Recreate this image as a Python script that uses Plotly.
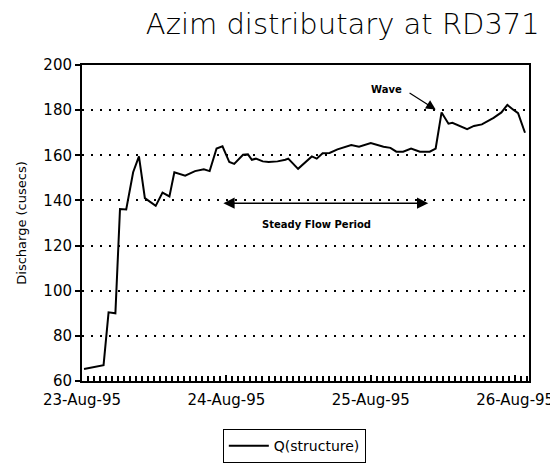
import plotly.graph_objects as go

times = [
    "1995-08-23 00:20", "1995-08-23 03:35", "1995-08-23 04:25", "1995-08-23 05:33",
    "1995-08-23 06:19", "1995-08-23 07:21", "1995-08-23 08:30", "1995-08-23 09:28",
    "1995-08-23 10:27", "1995-08-23 12:15", "1995-08-23 13:23", "1995-08-23 14:32",
    "1995-08-23 15:21", "1995-08-23 17:09", "1995-08-23 18:47", "1995-08-23 20:15",
    "1995-08-23 21:13", "1995-08-23 22:22", "1995-08-23 23:21", "1995-08-24 00:29",
    "1995-08-24 01:18", "1995-08-24 02:46", "1995-08-24 03:35", "1995-08-24 04:14",
    "1995-08-24 04:54", "1995-08-24 06:03", "1995-08-24 07:02", "1995-08-24 08:30",
    "1995-08-24 09:48", "1995-08-24 10:17", "1995-08-24 11:55", "1995-08-24 14:12",
    "1995-08-24 15:01", "1995-08-24 16:00", "1995-08-24 17:09", "1995-08-24 18:28",
    "1995-08-24 20:45", "1995-08-24 22:03", "1995-08-25 00:00", "1995-08-25 02:07",
    "1995-08-25 03:16", "1995-08-25 04:15", "1995-08-25 05:23", "1995-08-25 06:42",
    "1995-08-25 08:10", "1995-08-25 09:48", "1995-08-25 10:47", "1995-08-25 11:46",
    "1995-08-25 12:55", "1995-08-25 13:34", "1995-08-25 16:01", "1995-08-25 17:09",
    "1995-08-25 18:28", "1995-08-25 20:25", "1995-08-25 21:43", "1995-08-25 22:42",
    "1995-08-25 23:41", "1995-08-26 00:29", "1995-08-26 01:38",
]
discharge = [
    65.3, 67.0, 90.4, 90.0,
    136.2, 136.0, 152.5, 159.5,
    141.0, 137.6, 143.5, 141.8,
    152.5, 151.0, 153.0, 153.8,
    153.0, 163.0, 164.0, 157.0,
    156.2, 160.2, 160.4, 158.0,
    158.5, 157.3, 157.0, 157.3,
    158.0, 158.5, 154.0, 159.5,
    158.5, 160.9, 161.0, 162.6,
    164.5, 163.8, 165.4, 163.8,
    163.3, 161.6, 161.6, 163.0,
    161.6, 161.6, 163.0, 179.0,
    174.0, 174.4, 171.6, 173.0,
    173.7, 176.6, 179.0, 182.3,
    180.2, 178.7, 170.0,
]
series_name = "Q(structure)"
title_text = "Azim distributary at RD371"
y_title = "Discharge (cusecs)"
y_ticks = [60, 80, 100, 120, 140, 160, 180, 200]

fig = go.Figure()
fig.add_trace(go.Scatter(x=times, y=discharge, mode="lines", name=series_name,
                         line=dict(color="black", width=2)))

fig.update_layout(
    width=558, height=467,
    margin=dict(l=73, r=30, t=57, b=83),
    paper_bgcolor="white", plot_bgcolor="white",
    showlegend=True,
    font=dict(family="DejaVu Sans", color="black"),
    title=dict(text=title_text, x=0.6, xanchor="center", y=0.966, yanchor="middle",
               font=dict(family="DejaVu Sans", size=29, color="black", weight=200)),
    legend=dict(x=0.475, xanchor="center", y=-0.152, yanchor="top",
                bordercolor="black", borderwidth=1, bgcolor="white",
                font=dict(size=14, family="DejaVu Sans", color="black"),
                itemwidth=40),
)
fig.update_xaxes(
    range=["1995-08-23 00:00", "1995-08-26 02:18"],
    tickmode="linear", tick0="1995-08-23", dtick=86400000, tickformat="%d-%b-%y",
    ticks="inside", ticklen=6, tickcolor="black", tickwidth=1.5,
    showgrid=False, ticklabelstandoff=4,
    showline=True, linecolor="black", linewidth=2, mirror=True,
    tickfont=dict(size=15, family="DejaVu Sans", color="black"),
    minor=dict(dtick=3600000, ticks="inside", ticklen=5, tickcolor="black",
               tickwidth=1.5, showgrid=False),
)
fig.update_yaxes(
    range=[60, 200], tickvals=y_ticks,
    ticks="outside", ticklen=5, tickcolor="black", tickwidth=2,
    showgrid=True, gridcolor="black", gridwidth=1.5, griddash="2px,7px",
    showline=True, linecolor="black", linewidth=2, mirror=True,
    zeroline=False,
    tickfont=dict(size=15, family="DejaVu Sans", color="black"),
    title=dict(text=y_title, font=dict(size=13, family="DejaVu Sans", color="black"),
               standoff=14),
)

# Wave annotation
fig.add_annotation(x="1995-08-25 10:47", y=180.3, ax="1995-08-25 06:12", ay=188.0,
                   axref="x", ayref="y", xref="x", yref="y",
                   text="", showarrow=True, arrowhead=2, arrowsize=1.6, arrowwidth=1.2,
                   arrowcolor="black")
fig.add_annotation(x="1995-08-25 02:37", y=189.0, xref="x", yref="y", text="<b>Wave</b>",
                   showarrow=False, font=dict(size=10, family="DejaVu Sans", color="black"),
                   xanchor="center")
# Steady flow arrow (double-headed)
fig.add_annotation(x="1995-08-23 23:30", y=138.8, ax="1995-08-25 09:48", ay=138.8,
                   axref="x", ayref="y", xref="x", yref="y",
                   text="", showarrow=True, arrowhead=2, arrowside="end+start",
                   arrowsize=1.5, arrowwidth=1.5, arrowcolor="black")
fig.add_annotation(x="1995-08-24 15:00", y=129.4, xref="x", yref="y",
                   text="<b>Steady Flow Period</b>", showarrow=False,
                   font=dict(size=10, family="DejaVu Sans", color="black"))

fig.write_html("out.html")
